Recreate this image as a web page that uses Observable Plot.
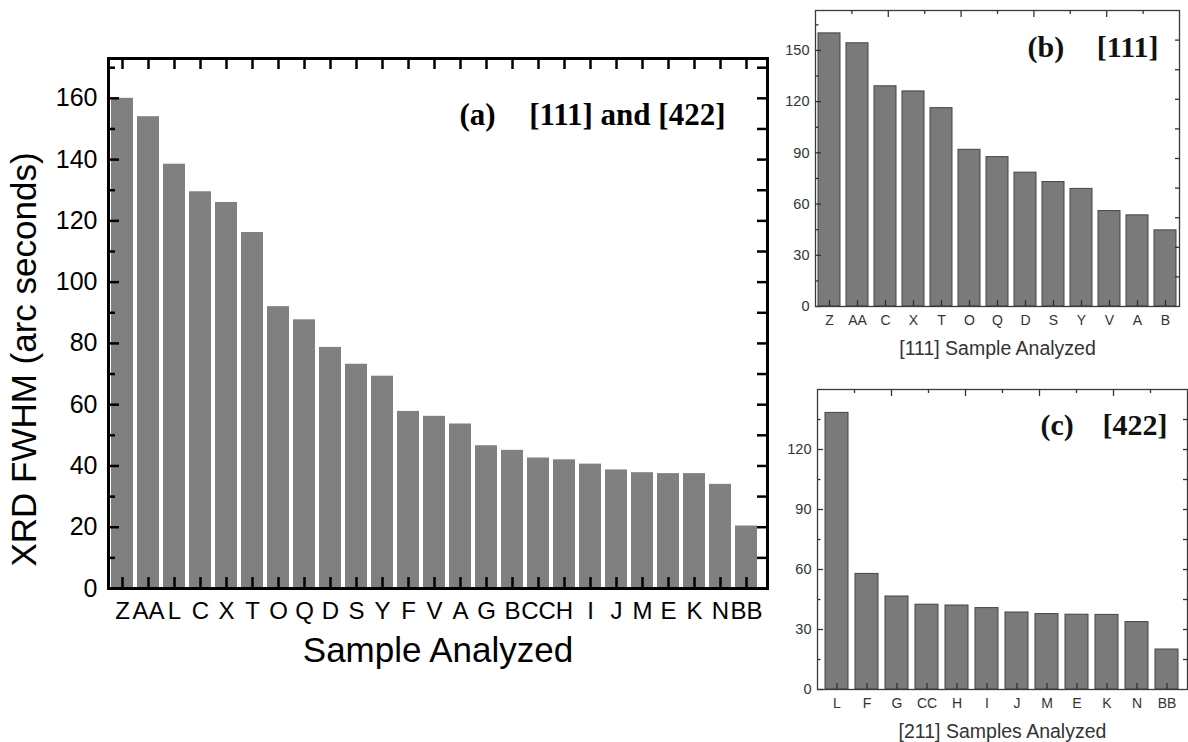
<!DOCTYPE html>
<html>
<head>
<meta charset="utf-8">
<script src="https://cdn.jsdelivr.net/npm/d3@7"></script>
<script src="https://cdn.jsdelivr.net/npm/@observablehq/plot@0.6"></script>
<style>
  html, body { margin: 0; padding: 0; background: #fff; }
  #root { position: relative; width: 1188px; height: 742px; background: #fff; overflow: hidden; }
  .panel { position: absolute; }
  .panel svg { overflow: visible; }
</style>
</head>
<body>
<div id="root">
  <div id="pa" class="panel" style="left:0px;top:0px"></div>
  <div id="pb" class="panel" style="left:770px;top:0px"></div>
  <div id="pb2" class="panel" style="left:770px;top:0px"></div>
  <div id="pc" class="panel" style="left:770px;top:370px"></div>
  <div id="pc2" class="panel" style="left:770px;top:370px"></div>
</div>
<script>
// ---- Panel (a): [111] and [422] ----
const samplesA = ["Z","AA","L","C","X","T","O","Q","D","S","Y","F","V","A","G","B","CC","H","I","J","M","E","K","N","BB"];
const fwhmA = [160,154,138.5,129.5,126,116.2,92,87.7,78.7,73.2,69.3,57.8,56.2,53.7,46.6,45.1,42.6,42,40.6,38.7,37.8,37.5,37.5,34,20.4];
const yTicksA = [0,20,40,60,80,100,120,140,160];
const yMinorA = [10,30,50,70,90,110,130,150,170];
const yRightA = [10,20,30,40,50,60,70,80,90,100,110,120,130,140,150,160,170];

// ---- Panel (b): [111] ----
const samplesB = ["Z","AA","C","X","T","O","Q","D","S","Y","V","A","B"];
const fwhmB = [160,154.2,129,126,116.2,91.8,87.5,78.4,72.9,68.9,55.9,53.4,44.6];
const yTicksB = [0,30,60,90,120,150];
const yMinorB = [15,45,75,105,135,165];

// ---- Panel (c): [422] ----
const samplesC = ["L","F","G","CC","H","I","J","M","E","K","N","BB"];
const fwhmC = [138.3,57.8,46.5,42.4,42,40.7,38.5,37.7,37.4,37.3,33.7,20];
const yTicksC = [0,30,60,90,120];
const yMinorC = [15,45,75,105,135];

// secondary (top/right) axes of the small panels
const auxMajor = [2,4,6,8];
const auxMinor = [1,3,5,7,9];
const auxAll = [1,2,3,4,5,6,7,8,9];

const toRows = (names, vals) => names.map((s, i) => ({s, v: vals[i]}));
const noText = () => "";
const serif = "'Liberation Serif', 'Times New Roman', serif";

// ================= Panel (a) =================
{
  const W = 775, H = 680, mL = 108, mT = 58, mR = 8, mB = 92;
  const ink = "#000";
  const plot = Plot.plot({
    width: W, height: H,
    marginLeft: mL, marginTop: mT, marginRight: mR, marginBottom: mB,
    style: {fontFamily: "'Liberation Sans', Arial, sans-serif", color: ink, background: "transparent", overflow: "visible"},
    x: {domain: samplesA, range: [mL + 0.5, W - mR - 8], paddingInner: 0.17, paddingOuter: 0.085},
    y: {domain: [0, 173]},
    marks: [
      Plot.barY(toRows(samplesA, fwhmA), {x: "s", y: "v", fill: "#808080"}),
      // left axis
      Plot.axisY({ticks: yTicksA, tickSize: 0, tickPadding: 11, fontSize: 25, label: null}),
      Plot.axisY({ticks: yTicksA, tickSize: -11, strokeWidth: 2.5, tickFormat: noText, label: null}),
      Plot.axisY({ticks: yMinorA, tickSize: -7, strokeWidth: 2.5, tickFormat: noText, label: null}),
      // right axis
      Plot.axisY({anchor: "right", ticks: yRightA, tickSize: -11, strokeWidth: 2.5, tickFormat: noText, label: null}),
      // bottom axis
      Plot.axisX({anchor: "bottom", tickSize: 0, tickPadding: 13, fontSize: 24, label: null}),
      Plot.axisX({anchor: "bottom", tickSize: -11, strokeWidth: 2.5, tickFormat: noText, label: null}),
      // top axis
      Plot.axisX({anchor: "top", tickSize: -10, strokeWidth: 2.5, tickFormat: noText, label: null}),
      Plot.frame({stroke: ink, strokeWidth: 3}),
      // axis titles
      Plot.text(["XRD FWHM (arc seconds)"], {frameAnchor: "left", text: d => d, rotate: -90, textAnchor: "middle", lineAnchor: "middle", dx: -84, dy: 36, fontSize: 35, fill: ink}),
      Plot.text(["Sample Analyzed"], {frameAnchor: "bottom", text: d => d, textAnchor: "middle", lineAnchor: "middle", dy: 62, fontSize: 35, fill: ink}),
      // panel annotation
      Plot.text(["(a)"], {frameAnchor: "top-left", text: d => d, dx: 351, dy: 57, textAnchor: "start", lineAnchor: "middle", fontFamily: serif, fontWeight: "bold", fontSize: 31, fill: ink}),
      Plot.text(["[111] and [422]"], {frameAnchor: "top-right", text: d => d, dx: -42, dy: 57, textAnchor: "end", lineAnchor: "middle", fontFamily: serif, fontWeight: "bold", fontSize: 31, fill: ink})
    ]
  });
  document.getElementById("pa").appendChild(plot);
}

// ================= Small panels (b) and (c) =================
function smallPanel({el, el2, names, vals, W, H, mL, mT, mR, mB, yMax, yTicks, yMinor, xTitle, tag, label, tagDx, labDx, annDy, pad}) {
  const ink = "#333";
  const plot = Plot.plot({
    width: W, height: H,
    marginLeft: mL, marginTop: mT, marginRight: mR, marginBottom: mB,
    style: {fontFamily: "'Liberation Sans', Arial, sans-serif", color: ink, background: "transparent", overflow: "visible"},
    x: {domain: names, paddingInner: pad, paddingOuter: pad / 2},
    y: {domain: [0, yMax]},
    marks: [
      Plot.barY(toRows(names, vals), {x: "s", y: "v", fill: "#7a7a7a", stroke: "#444", strokeWidth: 1}),
      Plot.axisY({ticks: yTicks, tickSize: 0, tickPadding: 6, fontSize: 14.5, fill: ink, label: null}),
      Plot.axisY({ticks: yTicks, tickSize: -6, strokeWidth: 1.3, stroke: ink, tickFormat: noText, label: null}),
      Plot.axisY({ticks: yMinor, tickSize: -3.5, strokeWidth: 1.3, stroke: ink, tickFormat: noText, label: null}),
      Plot.axisX({anchor: "bottom", tickSize: 0, tickPadding: 9, fontSize: 14, fill: ink, label: null}),
      Plot.axisX({anchor: "bottom", tickSize: -6, strokeWidth: 1.3, stroke: ink, tickFormat: noText, label: null}),
      Plot.frame({stroke: "#3a3a3a", strokeWidth: 1.3}),
      Plot.text([xTitle], {frameAnchor: "bottom", text: d => d, textAnchor: "middle", lineAnchor: "middle", dy: 42, fontSize: 19.5, fill: ink}),
      Plot.text([tag], {frameAnchor: "top-left", text: d => d, dx: tagDx, dy: annDy, textAnchor: "start", lineAnchor: "middle", fontFamily: serif, fontWeight: "bold", fontSize: 30, fill: "#111"}),
      Plot.text([label], {frameAnchor: "top-right", text: d => d, dx: labDx, dy: annDy, textAnchor: "end", lineAnchor: "middle", fontFamily: serif, fontWeight: "bold", fontSize: 30, fill: "#111"})
    ]
  });
  document.getElementById(el).appendChild(plot);

  // secondary top / right axes (linear 0..10) drawn on an overlaid plot
  const aux = Plot.plot({
    width: W, height: H,
    marginLeft: mL, marginTop: mT, marginRight: mR, marginBottom: mB,
    style: {background: "transparent", overflow: "visible"},
    x: {domain: [0, 10]},
    y: {domain: [0, 10]},
    marks: [
      Plot.axisX({anchor: "top", ticks: auxMajor, tickSize: -6, strokeWidth: 1.3, stroke: ink, tickFormat: noText, label: null}),
      Plot.axisX({anchor: "top", ticks: auxMinor, tickSize: -3, strokeWidth: 1.3, stroke: ink, tickFormat: noText, label: null}),
      Plot.axisY({anchor: "right", ticks: auxAll, tickSize: -5, strokeWidth: 1.3, stroke: ink, tickFormat: noText, label: null})
    ]
  });
  document.getElementById(el2).appendChild(aux);
}

smallPanel({el: "pb", el2: "pb2", names: samplesB, vals: fwhmB, W: 418, H: 370, mL: 45, mT: 10, mR: 9, mB: 64,
  yMax: 173.4, yTicks: yTicksB, yMinor: yMinorB, xTitle: "[111] Sample Analyzed",
  tag: "(b)", label: "[111]", tagDx: 212, labDx: -21, annDy: 37, pad: 0.21});

smallPanel({el: "pc", el2: "pc2", names: samplesC, vals: fwhmC, W: 418, H: 372, mL: 47, mT: 19, mR: 1, mB: 53,
  yMax: 150, yTicks: yTicksC, yMinor: yMinorC, xTitle: "[211] Samples Analyzed",
  tag: "(c)", label: "[422]", tagDx: 223, labDx: -20, annDy: 36, pad: 0.22});
</script>
</body>
</html>
